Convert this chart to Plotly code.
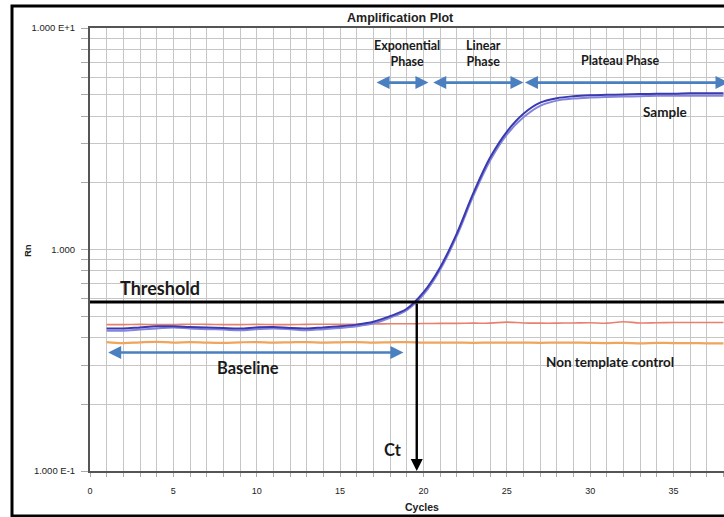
import numpy as np
import plotly.graph_objects as go

# ---- data ----
cycles = list(range(1, 39))

sample_rep1 = [0.440, 0.440, 0.445, 0.450, 0.450, 0.447, 0.445, 0.442, 0.440, 0.445,
               0.447, 0.442, 0.440, 0.445, 0.450, 0.458, 0.472, 0.500, 0.540, 0.640,
               0.830, 1.180, 1.800, 2.600, 3.400, 4.100, 4.600, 4.820, 4.920, 4.970,
               4.990, 5.010, 5.030, 5.050, 5.050, 5.070, 5.070, 5.070]
sample_rep2 = [0.430, 0.430, 0.435, 0.440, 0.445, 0.440, 0.437, 0.435, 0.432, 0.437,
               0.440, 0.437, 0.432, 0.437, 0.442, 0.450, 0.464, 0.492, 0.532, 0.625,
               0.810, 1.150, 1.750, 2.520, 3.300, 3.950, 4.450, 4.700, 4.800, 4.850,
               4.880, 4.900, 4.920, 4.940, 4.940, 4.950, 4.950, 4.950]
ntc_rep1 = [0.458, 0.458, 0.459, 0.458, 0.458, 0.460, 0.459, 0.458, 0.458, 0.459,
            0.458, 0.458, 0.459, 0.460, 0.459, 0.460, 0.461, 0.462, 0.462, 0.463,
            0.464, 0.464, 0.465, 0.465, 0.470, 0.466, 0.465, 0.465, 0.466, 0.467,
            0.465, 0.472, 0.466, 0.467, 0.468, 0.468, 0.468, 0.468]
ntc_rep2 = [0.382, 0.378, 0.381, 0.383, 0.380, 0.382, 0.380, 0.379, 0.381, 0.382,
            0.380, 0.381, 0.382, 0.380, 0.381, 0.382, 0.380, 0.381, 0.382, 0.380,
            0.380, 0.380, 0.379, 0.380, 0.380, 0.380, 0.379, 0.380, 0.380, 0.379,
            0.378, 0.379, 0.377, 0.379, 0.378, 0.378, 0.377, 0.377]

threshold = 0.58
ct_value = 19.6

x_ticks = list(range(0, 39))
x_labels = [str(v) if v % 5 == 0 else "" for v in x_ticks]
y_ticks = [m * 10.0 ** e for e in (-1, 0) for m in range(1, 10)] + [10.0]
y_labels = {0.1: "1.000 E-1", 1.0: "1.000", 10.0: "1.000 E+1"}

# ---- figure ----
fig = go.Figure()

fig.add_trace(go.Scatter(x=cycles, y=ntc_rep1, mode="lines",
                         line=dict(color="#e8806e", width=1.6, shape="spline")))
fig.add_trace(go.Scatter(x=cycles, y=ntc_rep2, mode="lines",
                         line=dict(color="#f0a45c", width=2.2, shape="spline")))
fig.add_trace(go.Scatter(x=cycles, y=sample_rep2, mode="lines",
                         line=dict(color="#8484dc", width=2, shape="spline")))
fig.add_trace(go.Scatter(x=cycles, y=sample_rep1, mode="lines",
                         line=dict(color="#3a3ab0", width=2, shape="spline")))
fig.add_trace(go.Scatter(x=[0, 38.1], y=[threshold, threshold], mode="lines",
                         line=dict(color="black", width=3)))

ann_font = dict(family="Lato, Open Sans, sans-serif", color="#1a1a1a")
arrow_blue = "#4a7fc0"
ly = np.log10


def arrow(x0, x1, y, color, width, both=True):
    fig.add_annotation(x=x1, y=ly(y), ax=x0, ay=ly(y), xref="x", yref="y",
                       axref="x", ayref="y", text="", showarrow=True,
                       arrowhead=2, arrowsize=1.0, arrowwidth=width,
                       arrowcolor=color, arrowside="end+start" if both else "end")


# phase arrows
arrow(17.1, 20.3, 5.67, arrow_blue, 2.6)
arrow(20.5, 26.0, 5.67, arrow_blue, 2.6)
arrow(26.0, 38.3, 5.67, arrow_blue, 2.6)
# baseline arrow
arrow(1.0, 18.8, 0.343, arrow_blue, 2.6)
# Ct arrow
fig.add_annotation(x=ct_value, y=-1, ax=ct_value, ay=ly(threshold), xref="x", yref="y",
                   axref="x", ayref="y", text="", showarrow=True, arrowhead=2,
                   arrowsize=1.0, arrowwidth=2.4, arrowcolor="black")

texts = [
    ("Threshold", 4.2, -0.172, 18),
    ("Baseline", 9.5, -0.533, 16.5),
    ("Ct", 18.2, -0.907, 16.5),
    ("Non template control", 31.2, -0.51, 13.5),
    ("Sample", 34.5, 0.623, 13.5),
    ("Plateau Phase", 31.8, 0.853, 12.5),
    ("Exponential<br>Phase", 19.0, 0.885, 12.5),
    ("Linear<br>Phase", 23.6, 0.885, 12.5),
]
for t, x, y, s in texts:
    fig.add_annotation(x=x, y=y, xref="x", yref="y", text="<b>%s</b>" % t,
                       showarrow=False, font=dict(size=s, **ann_font))

# titles
small = dict(family="Liberation Sans, Arial, sans-serif", color="#222")
fig.add_annotation(x=(400 - 90) / 634, y=1 + 10 / 443, xref="paper", yref="paper",
                   xanchor="center", yanchor="middle",
                   text="<b>Amplification Plot</b>", showarrow=False,
                   font=dict(size=12.5, **small))
fig.add_annotation(x=(422 - 90) / 634, y=-(507 - 471) / 443, xref="paper", yref="paper",
                   xanchor="center", yanchor="middle",
                   text="<b>Cycles</b>", showarrow=False, font=dict(size=10.5, **small))
fig.add_annotation(x=(27 - 90) / 634, y=(471 - 250) / 443, xref="paper", yref="paper",
                   xanchor="center", yanchor="middle",
                   text="<b>Rn</b>", showarrow=False, textangle=-90,
                   font=dict(size=9.5, **small))

# outer frame
fig.add_shape(type="rect", xref="paper", yref="paper",
              x0=(12 - 90) / 634, x1=1.02, y0=-(516 - 471) / 443, y1=1 + 22 / 443,
              line=dict(color="black", width=3), layer="below")

fig.update_layout(
    width=724, height=517,
    margin=dict(l=90, r=0, t=28, b=46),
    paper_bgcolor="white", plot_bgcolor="white",
    showlegend=False,
    xaxis=dict(range=[0, 38.03], tickvals=x_ticks, ticktext=x_labels,
               showgrid=True, gridcolor="#c6c6c6", gridwidth=1.2,
               showline=True, linecolor="#555", linewidth=2, mirror=True,
               ticks="outside", ticklen=4, tickcolor="#aaa", ticklabelstandoff=6,
               tickfont=dict(size=9, **small), zeroline=False),
    yaxis=dict(type="log", range=[-1, 1], tickvals=y_ticks,
               ticktext=[y_labels.get(round(v, 3), "") for v in y_ticks],
               showgrid=True, gridcolor="#c6c6c6", gridwidth=1.2,
               showline=True, linecolor="#555", linewidth=2,
               ticks="outside", ticklen=7, tickcolor="#aaa", ticklabelstandoff=4,
               tickfont=dict(size=9.5, **small), zeroline=False),
)

fig.write_html("out.html")
